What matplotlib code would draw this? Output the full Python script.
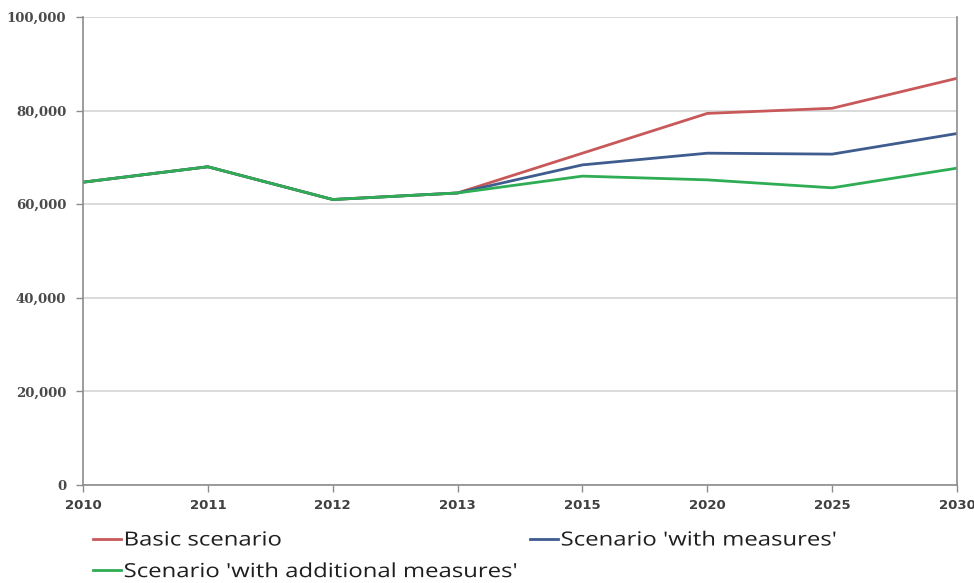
import matplotlib
matplotlib.use("Agg")
import matplotlib.pyplot as plt
from matplotlib.patheffects import AbstractPathEffect
from matplotlib.ticker import FuncFormatter, MultipleLocator
from matplotlib.transforms import Affine2D

years = ["2010", "2011", "2012", "2013", "2015", "2020", "2025", "2030"]
basic = [64700, 68000, 61000, 62400, 70900, 79400, 80500, 86900]
with_measures = [64700, 68000, 61000, 62400, 68400, 70900, 70700, 75100]
with_additional = [64700, 68000, 61000, 62400, 66000, 65200, 63500, 67700]

series_labels = ["Basic scenario", "Scenario 'with measures'",
                 "Scenario 'with additional measures'"]
series_colors = ["#C8585A", "#3E5C8E", "#2EAD55"]


class HStretch(AbstractPathEffect):
    """Widen glyphs horizontally from the start of the string."""

    def __init__(self, sx):
        super().__init__()
        self.sx = sx

    def draw_path(self, renderer, gc, tpath, affine, rgbFace=None):
        renderer.draw_path(gc, tpath, Affine2D().scale(self.sx, 1) + affine, rgbFace)


fig = plt.figure(figsize=(9.74, 5.83), dpi=100)
ax = fig.add_axes([83 / 974, 1 - 485 / 583, (957 - 83) / 974, (485 - 17) / 583])

x = list(range(len(years)))
lines = []
for vals, lab, col in zip([basic, with_measures, with_additional],
                          series_labels, series_colors):
    ln, = ax.plot(x, vals, color=col, lw=2.0, label=lab, solid_joinstyle="round")
    lines.append(ln)

ax.set_xlim(0, len(years) - 1)
ax.set_ylim(0, 100000)
ax.yaxis.set_major_locator(MultipleLocator(20000))
ax.yaxis.set_major_formatter(FuncFormatter(lambda v, p: f"{int(v):,}"))
ax.set_xticks(x)
ax.set_xticklabels(years)

ax.grid(axis="y", color="#d4d4d4", lw=1.2)
ax.set_axisbelow(True)
for side in ["left", "bottom", "right"]:
    ax.spines[side].set_color("#8c8c8c")
    ax.spines[side].set_linewidth(1.2)
ax.spines["top"].set_visible(False)

ax.tick_params(axis="y", length=5, width=1, color="#8c8c8c", pad=7,
               labelsize=9.5, labelcolor="#4a4a4a")
ax.tick_params(axis="x", length=5, width=1, color="#8c8c8c", pad=5,
               labelsize=9.5, labelcolor="#404040")
for t in ax.get_yticklabels():
    t.set_family(["DejaVu Serif"])
    t.set_fontweight("bold")
for t in ax.get_xticklabels():
    t.set_family(["DejaVu Sans"])
    t.set_fontweight("bold")

leg_kw = dict(loc="upper left", frameon=False, handlelength=1.45,
              handletextpad=0.15, labelspacing=0.7, borderpad=0.4,
              prop={"family": ["Open Sans", "DejaVu Sans"], "size": 14,
                    "weight": "medium"})

leg1 = fig.legend([lines[0], lines[2]], [series_labels[0], series_labels[2]],
                  bbox_to_anchor=(75 / 974, 1 - 514 / 583), **leg_kw)
leg2 = fig.legend([lines[1]], [series_labels[1]],
                  bbox_to_anchor=(512 / 974, 1 - 514 / 583), **leg_kw)
for leg in (leg1, leg2):
    for t in leg.get_texts():
        t.set_color("#1e1e1e")
        t.set_path_effects([HStretch(1.23)])

fig.savefig("out.png", dpi=100)
